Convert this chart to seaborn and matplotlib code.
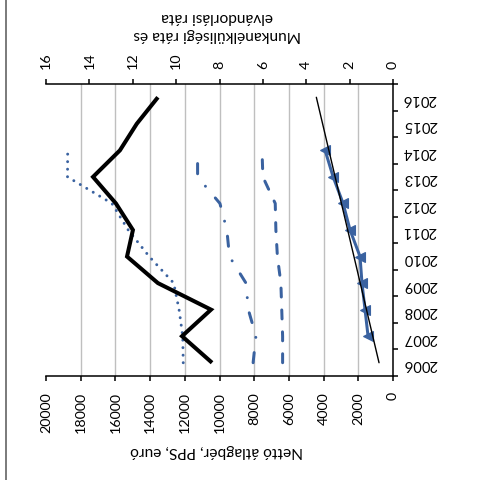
import numpy as np
import pandas as pd
import matplotlib
matplotlib.use("Agg")
import matplotlib.pyplot as plt
import seaborn as sns
from matplotlib.lines import Line2D

# ---- data ----
years = [2006, 2007, 2008, 2009, 2010, 2011, 2012, 2013, 2014, 2015, 2016]
wage_solid = [10430, 12160, 10490, 13550, 15330, 14990, 15970, 17290, 15740, 14770, 13550]
years_short = [2006, 2007, 2008, 2009, 2010, 2011, 2012, 2013, 2014]
wage_dotted = [12090, 12120, 12330, 12640, 14050, 15260, 16200, 18760, 18750]
rate_dashdot = [6.45, 6.32, 6.67, 6.78, 7.54, 7.66, 7.98, 9.01, 9.01]
rate_dashed = [5.09, 5.09, 5.13, 5.17, 5.33, 5.40, 5.43, 6.00, 6.04]
years_emig = [2007, 2008, 2009, 2010, 2011, 2012, 2013, 2014]
rate_emig = [1.15, 1.29, 1.43, 1.52, 1.98, 2.30, 2.76, 3.13]

wage_ticks = [0, 2000, 4000, 6000, 8000, 10000, 12000, 14000, 16000, 18000, 20000]
rate_ticks = [0, 2, 4, 6, 8, 10, 12, 14, 16]
wage_title = "Nettó átlagbér, PPS, euró"
rate_title = "Munkanélküliségi ráta és\nelvándorlási ráta"

sns.set_theme(style="white")
plt.rcParams['font.family'] = ['Lato', 'DejaVu Sans']
plt.rcParams['text.color'] = 'black'
plt.rcParams['xtick.color'] = 'black'
plt.rcParams['ytick.color'] = 'black'

BLUE = '#3A62A0'
W = 480.0
fig = plt.figure(figsize=(4.8, 4.8), dpi=100)
fig.patch.set_facecolor('white')
ax = fig.add_axes([46 / W, 1 - 376 / W, (393 - 46) / W, (376 - 84) / W])
ax2 = ax.twiny()

df_solid = pd.DataFrame({'year': years, 'val': wage_solid})
df_dot = pd.DataFrame({'year': years_short, 'val': wage_dotted})
df_dd = pd.DataFrame({'year': years_short, 'val': rate_dashdot})
df_da = pd.DataFrame({'year': years_short, 'val': rate_dashed})
df_em = pd.DataFrame({'year': years_emig, 'val': rate_emig})
coef = np.polyfit(years_emig, rate_emig, 1)
df_tr = pd.DataFrame({'year': years, 'val': np.polyval(coef, years)})

LW = 2.16  # 3 px
sns.lineplot(data=df_dot, x='val', y='year', orient='y', ax=ax, color=BLUE,
             lw=LW, linestyle=(0, (0.01, 2.5)), dash_capstyle='round')
sns.lineplot(data=df_solid, x='val', y='year', orient='y', ax=ax, color='black',
             lw=2.9, solid_capstyle='butt', solid_joinstyle='miter')

sns.lineplot(data=df_dd, x='val', y='year', orient='y', ax=ax2, color=BLUE,
             lw=LW, linestyle=(0, (3.4, 5.1, 0.01, 5.1)), dash_capstyle='round')
sns.lineplot(data=df_da, x='val', y='year', orient='y', ax=ax2, color=BLUE,
             lw=LW, linestyle=(0, (3.0, 4.3)), dash_capstyle='round')
sns.lineplot(data=df_em, x='val', y='year', orient='y', ax=ax2, color=BLUE,
             lw=LW, marker='<', markersize=7, markerfacecolor=BLUE,
             markeredgecolor=BLUE, markeredgewidth=0.8)
sns.lineplot(data=df_tr, x='val', y='year', orient='y', ax=ax2, color='black', lw=1.0)

# primary axis (bottom)
ax.set_xlim(20000, 0)
ax.set_xticks(wage_ticks)
ax.set_xticklabels([str(t) for t in wage_ticks])
ax.set_ylim(2005.5, 2016.5)
ax.set_xlabel('')
ax.set_ylabel('')
ax.grid(axis='x', color='#BFBFBF', lw=1.0)
ax.grid(axis='y', visible=False)
ax.set_axisbelow(True)
for t in ax.xaxis.get_major_ticks():
    if t.get_loc() in (0, 20000):
        t.gridline.set_visible(False)
ax.tick_params(axis='x', which='major', bottom=True, direction='out', length=3.6,
               width=1.1, pad=8, labelrotation=90, labelsize=10.3)

# year axis on the right
ax.yaxis.tick_right()
ax.set_yticks(years)
ax.set_yticklabels([str(y) for y in years])
ax.set_yticks([y - 0.5 for y in years] + [years[-1] + 0.5], minor=True)
ax.tick_params(axis='y', which='major', length=0, pad=7, labelrotation=180, labelsize=10.6,
               left=False, right=True)
ax.tick_params(axis='y', which='minor', length=3.6, width=1.1, direction='out',
               left=False, right=True)

# secondary axis (top)
ax2.set_xlim(16, 0)
ax2.set_xticks(rate_ticks)
ax2.set_xticklabels([str(t) for t in rate_ticks])
ax2.set_xlabel('')
ax2.grid(False)
ax2.tick_params(axis='x', which='major', top=True, direction='out', length=3.6,
                width=1.1, pad=7, labelrotation=90, labelsize=10.3)

for s in ['left', 'top']:
    ax.spines[s].set_visible(False)
for s in ['bottom', 'right']:
    ax.spines[s].set_color('black')
    ax.spines[s].set_linewidth(1.1)
for s in ['left', 'bottom', 'right']:
    ax2.spines[s].set_visible(False)
ax2.spines['top'].set_color('black')
ax2.spines['top'].set_linewidth(1.1)

fig.text(217 / W, 1 - 451 / W, wage_title, rotation=180, ha='center', va='center',
         fontsize=11.2)
fig.text(217 / W, 1 - 26 / W, rate_title, rotation=180, ha='center', va='center',
         multialignment='center', fontsize=11.2, linespacing=1.35)

fig.add_artist(Line2D([6 / W, 6 / W], [0, 1], transform=fig.transFigure,
                      color='#707070', lw=1.3))

fig.savefig('out.png', dpi=100, facecolor='white')
